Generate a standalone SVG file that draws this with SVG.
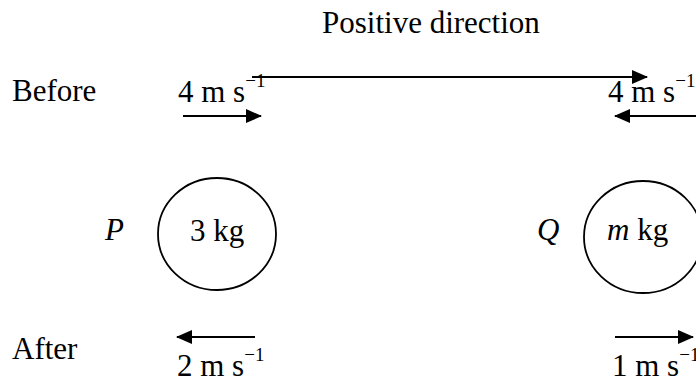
<svg xmlns="http://www.w3.org/2000/svg" width="696" height="383" viewBox="0 0 696 383">
<style>
text{font-family:"Liberation Serif","Times New Roman",serif;font-size:31px;fill:#000}
.sup{font-size:19px}
.it{font-style:italic}
.ln{stroke:#000;stroke-width:2;fill:none}
.ball{stroke:#000;stroke-width:1.8;fill:none}
</style>
<defs>
<marker id="ah" viewBox="0 0 16 14" refX="15" refY="7" markerWidth="16" markerHeight="14" markerUnits="userSpaceOnUse" orient="auto">
<path d="M0,0 L16,7 L0,14 Z" fill="#000"/>
</marker>
</defs>
<rect width="696" height="383" fill="#fff"/>
<g id="labels">
<text x="322" y="33">Positive direction</text>
<text x="12" y="101">Before</text>
<text x="12" y="359">After</text>
<text x="178" y="102">4 m s<tspan class="sup" dy="-15">−1</tspan></text>
<text x="608" y="102">4 m s<tspan class="sup" dy="-15">−1</tspan></text>
<text x="177" y="376">2 m s<tspan class="sup" dy="-15">−1</tspan></text>
<text x="612" y="376">1 m s<tspan class="sup" dy="-15">−1</tspan></text>
</g>
<g id="P">
<ellipse class="ball" cx="217" cy="234" rx="59" ry="56"/>
<text class="it" x="105" y="240">P</text>
<text x="190" y="241">3 kg</text>
</g>
<g id="Q">
<ellipse class="ball" cx="643" cy="237" rx="59" ry="56"/>
<text class="it" x="537" y="240">Q</text>
<text x="607" y="240"><tspan class="it">m</tspan> kg</text>
</g>
<g id="connectors">
<line class="ln" x1="252" y1="77" x2="647" y2="77" marker-end="url(#ah)"/>
<line class="ln" x1="183" y1="116" x2="261" y2="116" marker-end="url(#ah)"/>
<line class="ln" x1="696" y1="116" x2="615" y2="116" marker-end="url(#ah)"/>
<line class="ln" x1="255" y1="337" x2="177" y2="337" marker-end="url(#ah)"/>
<line class="ln" x1="615" y1="337" x2="693" y2="337" marker-end="url(#ah)"/>
</g>
</svg>
